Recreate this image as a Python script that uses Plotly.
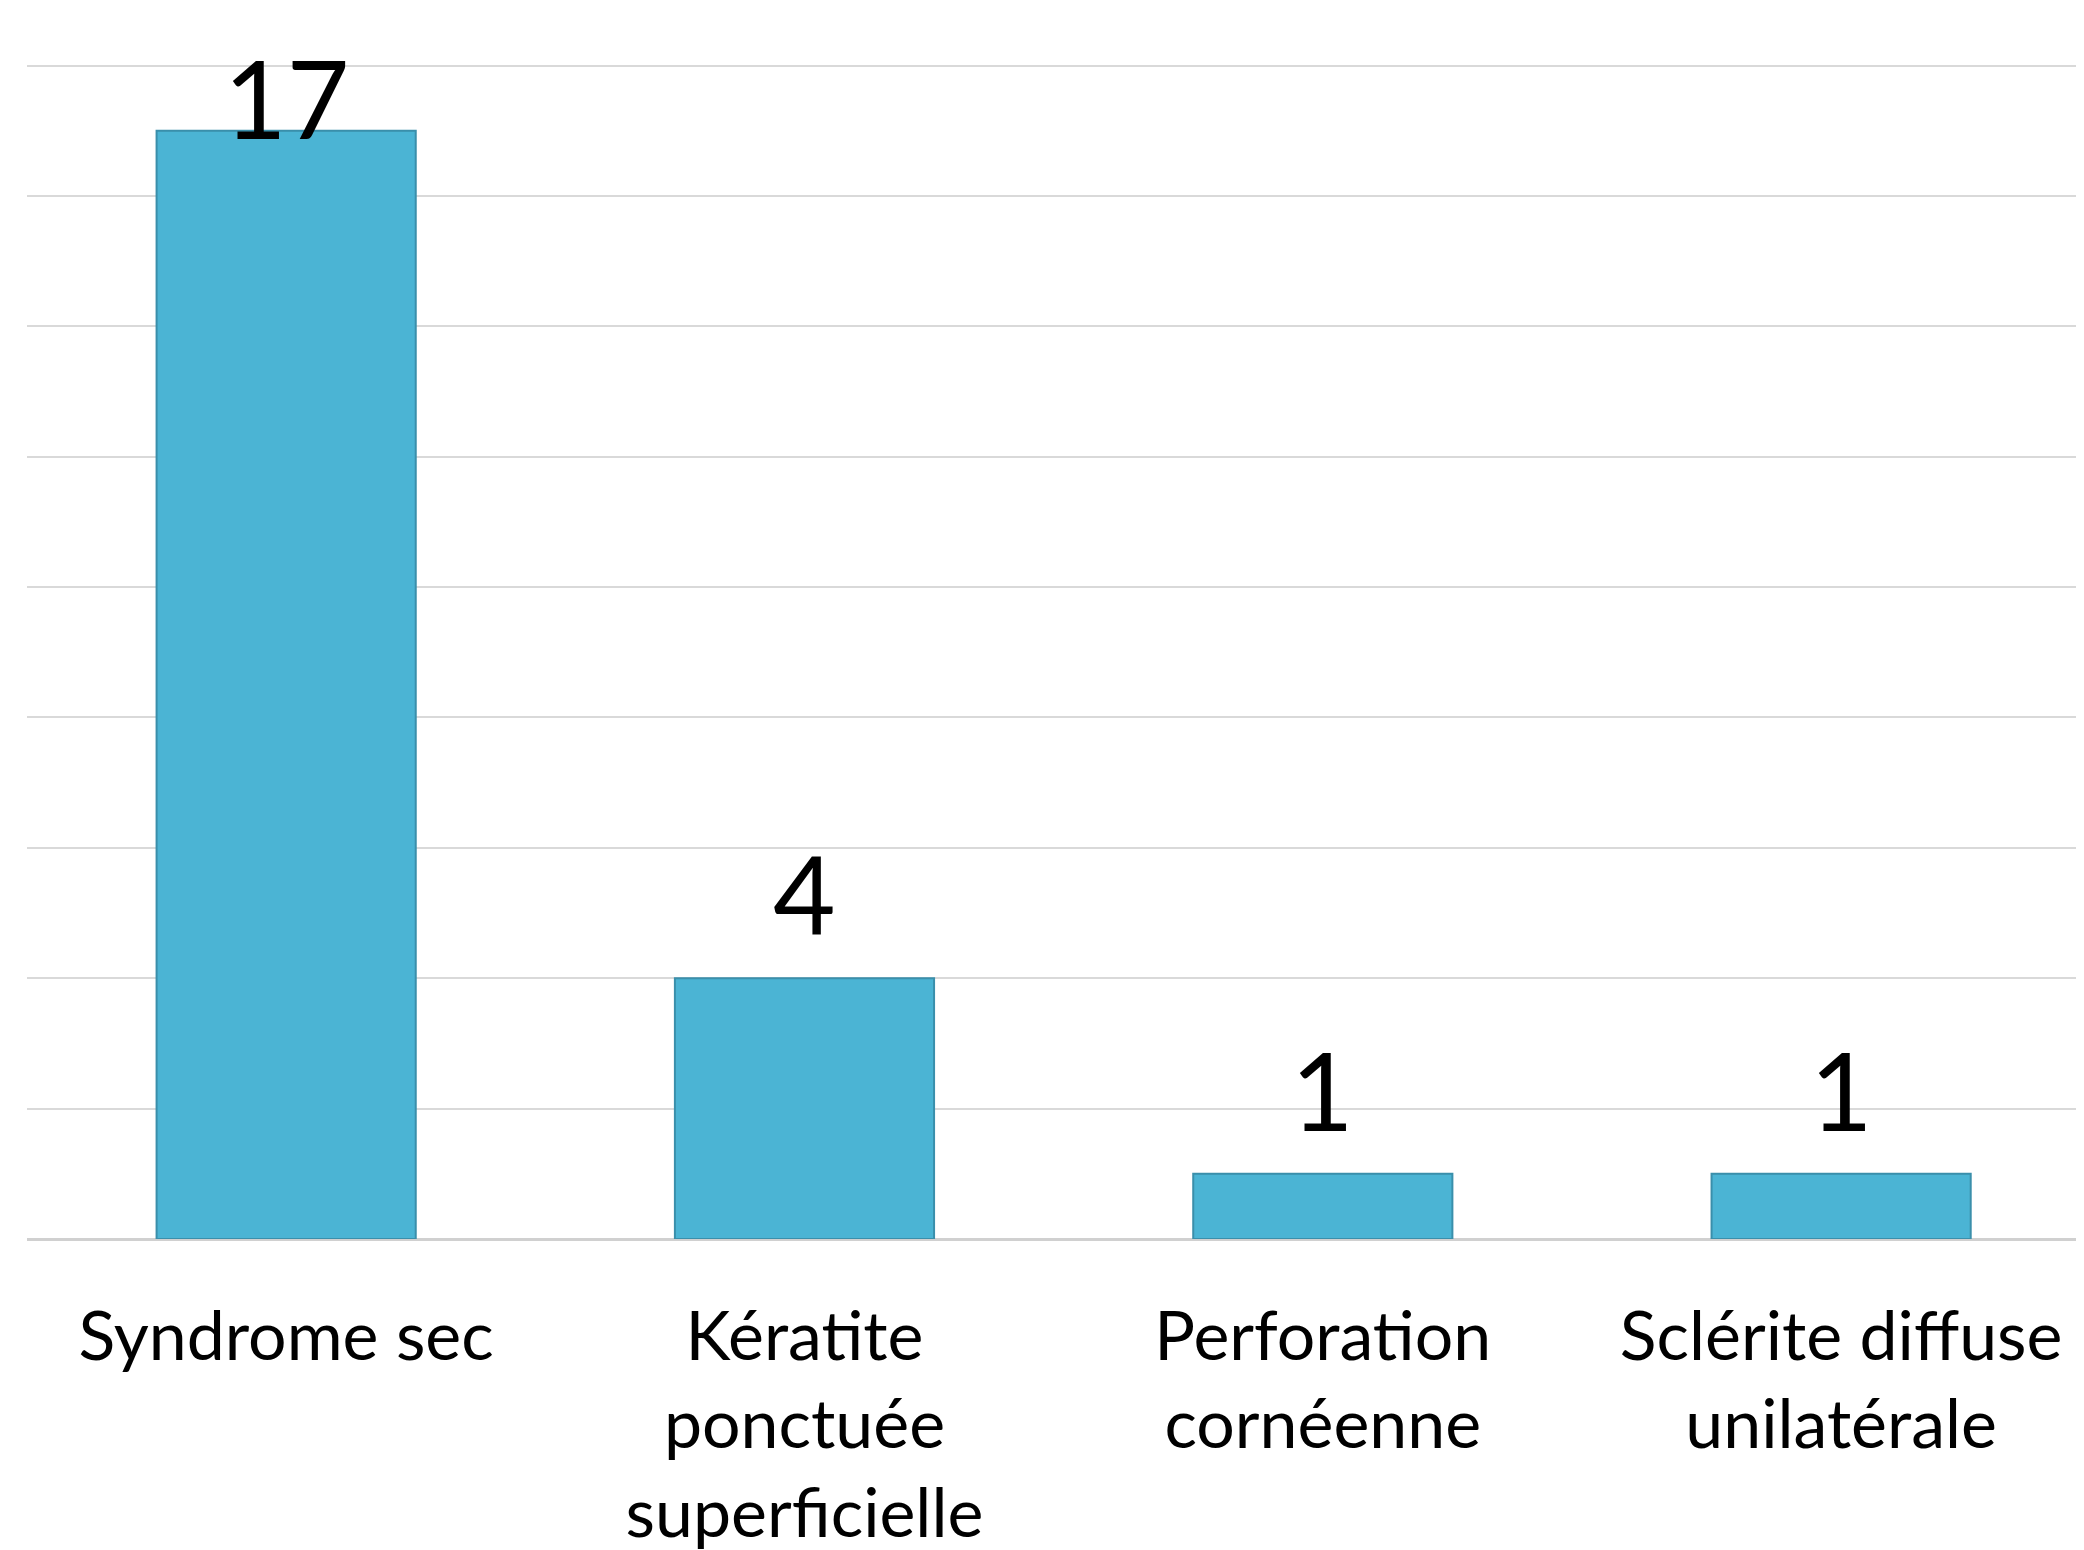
import plotly.graph_objects as go

categories = ["Syndrome sec", "Kératite<br>ponctuée<br>superficielle", "Perforation<br>cornéenne", "Sclérite diffuse<br>unilatérale"]
values = [17, 4, 1, 1]
y_max = 18
y_tick_step = 2

FONT = "Lato, 'Open Sans', sans-serif"
W, H = 2084, 1550

fig = go.Figure()
fig.add_trace(go.Bar(
    x=list(range(len(categories))),
    y=values,
    width=0.5,
    marker=dict(color="#4bb4d4", line=dict(color="#3a8fab", width=2)),
    hoverinfo="skip",
))

# value labels above bars (clamped inside the plot top like the original)
label_gap = 0.63
label_h = 1.25
for i, v in enumerate(values):
    yy = min(v + label_gap, y_max + 0.1 - label_h)
    fig.add_annotation(x=i, y=yy, text=str(v), showarrow=False, yanchor="bottom",
                       xanchor="center", font=dict(family=FONT, size=108, color="black"),
                       borderpad=0, yshift=-22)

fig.update_layout(
    width=W, height=H,
    margin=dict(l=19, r=0, t=55, b=319),
    paper_bgcolor="white", plot_bgcolor="white",
    showlegend=False,
    font=dict(family=FONT, color="black"),
    xaxis=dict(
        tickmode="array", tickvals=list(range(len(categories))), ticktext=categories,
        range=[-0.5, 3.484], tickangle=0, showgrid=False, zeroline=False,
        showline=False, ticks="", tickfont=dict(size=68, family=FONT, color="black"),
        ticklabelstandoff=52,
    ),
    yaxis=dict(
        range=[0, y_max + 0.04], dtick=y_tick_step, showticklabels=False, showgrid=True,
        gridcolor="#d9d9d9", gridwidth=2, zeroline=True, zerolinecolor="#d0d0d0",
        zerolinewidth=3, showline=False, ticks="",
    ),
)

fig.write_html("out.html")
